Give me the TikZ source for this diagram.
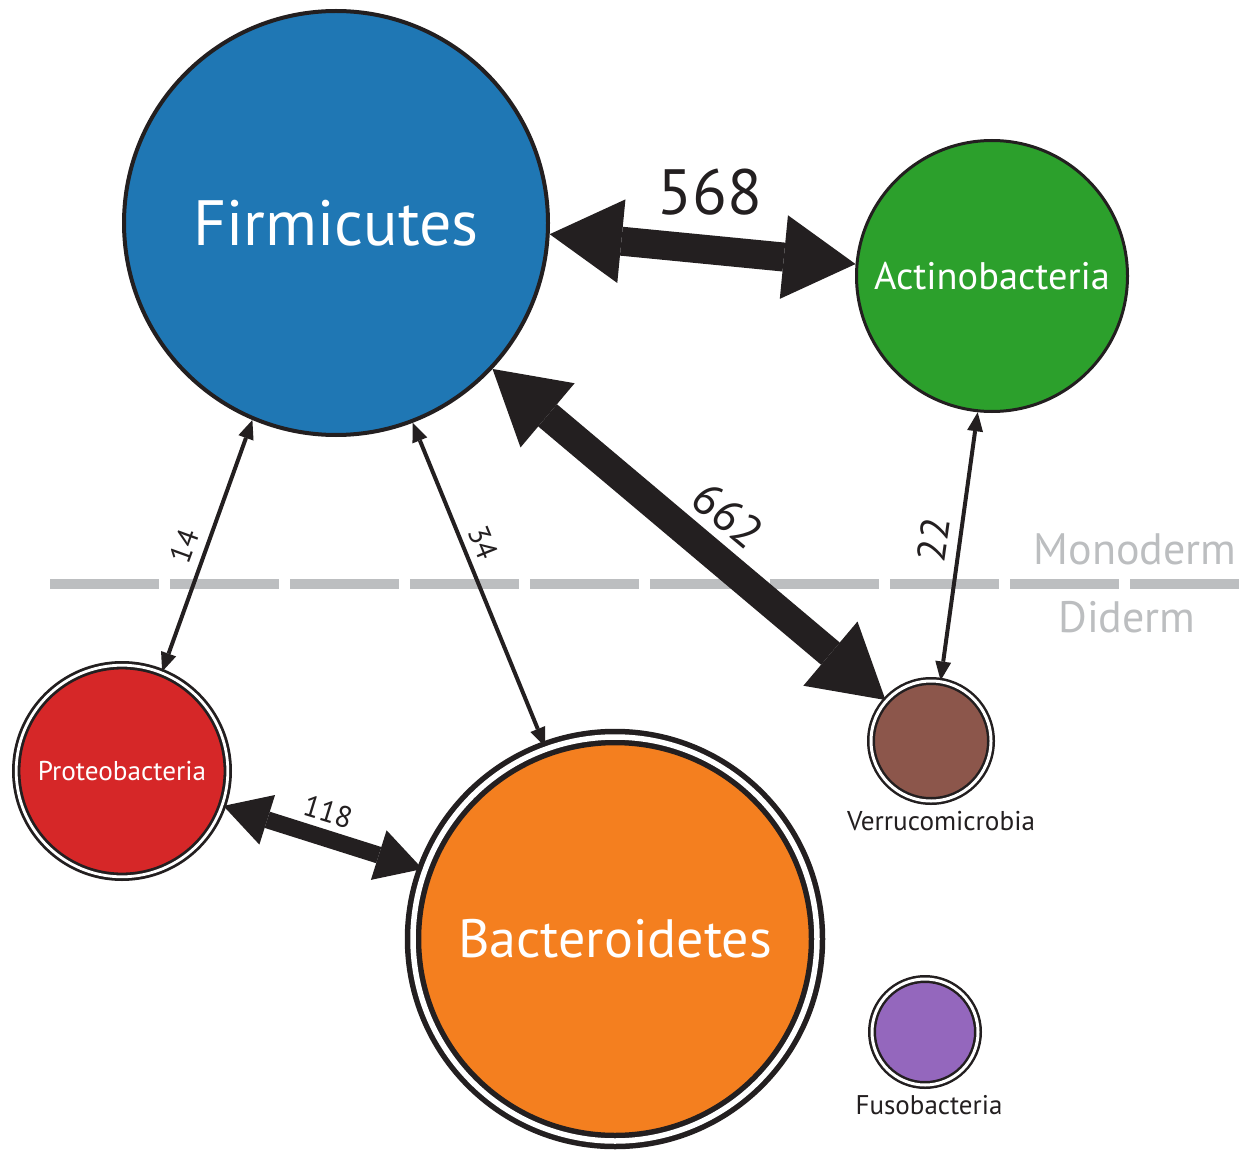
\documentclass[tikz,border=0pt]{standalone}
\usepackage{fontspec}
\setmainfont{PT Sans}
\usetikzlibrary{arrows.meta}
\definecolor{firmc}{HTML}{1F77B4}
\definecolor{actc}{HTML}{2CA02C}
\definecolor{protc}{HTML}{D62728}
\definecolor{bactc}{HTML}{F47F1F}
\definecolor{verrc}{HTML}{8C564B}
\definecolor{fusoc}{HTML}{9467BD}
\definecolor{arrc}{HTML}{231F20}
\definecolor{grayc}{HTML}{BCBEC0}
\newcommand{\fsz}[1]{\fontsize{#1}{#1}\selectfont}
\begin{document}
\begin{tikzpicture}[x=0.5pt,y=-0.5pt,
  phylum/.style={circle, draw=arrc, inner sep=0pt, text=white},
  dbl/.style={double=white},
  fat/.style={draw=arrc, line width=14.5pt,
    {Triangle[length=36pt,width=42pt,line width=0pt]}-{Triangle[length=36pt,width=42pt,line width=0pt]}},
  mid/.style={draw=arrc, line width=8.5pt,
    {Triangle[length=23pt,width=26pt,line width=0pt]}-{Triangle[length=23pt,width=26pt,line width=0pt]}},
  thin/.style={draw=arrc, line width=2pt,
    {Triangle[length=9.5pt,width=8pt,line width=0pt]}-{Triangle[length=9.5pt,width=8pt,line width=0pt]}},
  lbl/.style={text=arrc, inner sep=0pt},
  dashline/.style={draw=grayc, line width=5pt, dash pattern=on 54.5pt off 5.5pt}
]
\useasboundingbox (0,0) rectangle (1247,1150);

% membrane divider
\coordinate (dl) at (50,584);
\coordinate (dr) at (1240,584);
\draw[dashline] (dl) -- (dr);
\node[text=grayc, font=\fsz{22}] (mono) at (1135,549) {Monoderm};
\node[text=grayc, font=\fsz{22}] (dide) at (1127,617) {Diderm};

% phyla
\node[phylum, fill=firmc, line width=2pt, minimum size=212pt, font=\fsz{32}] (firm) at (336,223) {Firmicutes};
\node[phylum, fill=actc, line width=1.5pt, minimum size=135.5pt, font=\fsz{19.2}] (act) at (992,276) {Actinobacteria};
\node[phylum, dbl, fill=protc, line width=1.4pt, double distance=1.4pt, minimum size=105.8pt, font=\fsz{13.6}] (prot) at (122,771) {Proteobacteria};
\node[phylum, dbl, fill=bactc, line width=2.75pt, double distance=2.75pt, minimum size=202pt, font=\fsz{27}] (bact) at (615,939) {Bacteroidetes};
\node[phylum, dbl, fill=verrc, line width=1.25pt, double distance=1.5pt, minimum size=60pt] (verr) at (931,741) {};
\node[phylum, dbl, fill=fusoc, line width=1.25pt, double distance=1.5pt, minimum size=53pt] (fuso) at (925,1032) {};
\node[lbl, font=\fsz{13.6}] (verrl) at (941,821) {Verrucomicrobia};
\node[lbl, font=\fsz{13.5}] (fusol) at (929,1105) {Fusobacteria};

% connectors
\draw[fat] (firm.-3) -- (act.175.5);
\draw[fat] (firm.-43) -- (verr.138);
\draw[mid] (prot.-19) -- (bact.160);
\draw[thin] (firm.-113) -- (prot.68);
\draw[thin] (firm.-69) -- (bact.110);
\draw[thin] (act.-96) -- (verr.81);

% edge labels
\node[lbl, font=\fsz{32}] (l568) at (710,192) {568};
\node[lbl, font=\fsz{23}, rotate=-40] (l662) at (728,515) {662};
\node[lbl, font=\fsz{15}, rotate=-17] (l118) at (328,812) {118};
\node[lbl, font=\fsz{15}, rotate=70] (l14) at (184,546) {14};
\node[lbl, font=\fsz{15}, rotate=-68] (l34) at (483,543) {34};
\node[lbl, font=\fsz{20}, rotate=82] (l22) at (933,540) {22};
\end{tikzpicture}
\end{document}
